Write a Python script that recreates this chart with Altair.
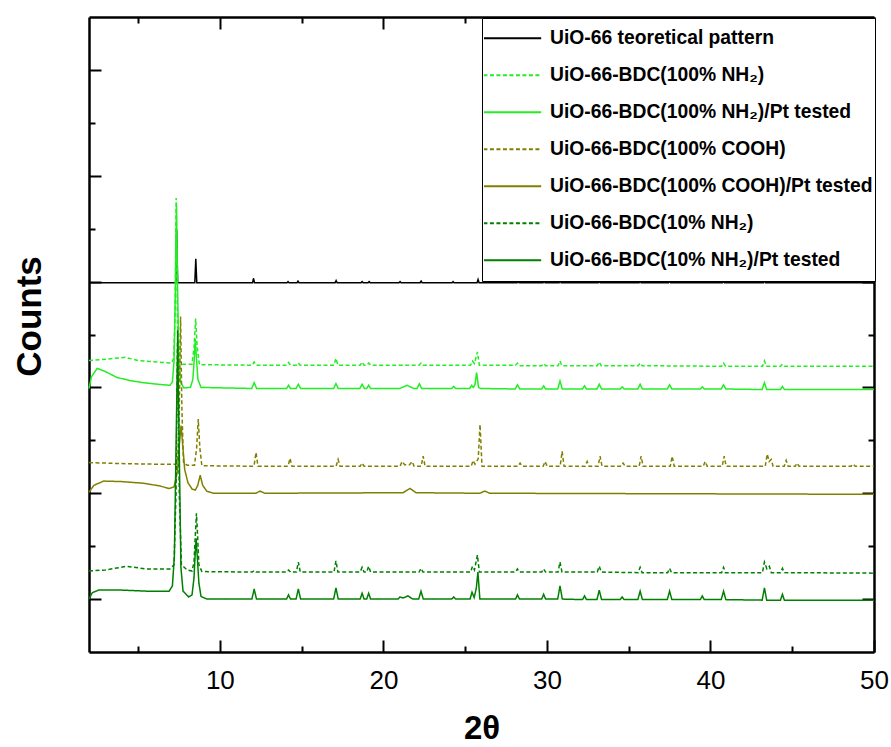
import altair as alt
import pandas as pd

# ---------------- data ----------------
NAMES = [
    "UiO-66 teoretical pattern",
    "UiO-66-BDC(100% NH₂)",
    "UiO-66-BDC(100% NH₂)/Pt tested",
    "UiO-66-BDC(100% COOH)",
    "UiO-66-BDC(100% COOH)/Pt tested",
    "UiO-66-BDC(10% NH₂)",
    "UiO-66-BDC(10% NH₂)/Pt tested",
]
COLORS = ["#000000", "#22EE22", "#22EE22", "#808000", "#808000", "#008000", "#008000"]
DASHES = [[1, 0], [4, 2.5], [1, 0], [4, 2.5], [1, 0], [4, 2.5], [1, 0]]

THEORETICAL = [
    [2.0, 6.98],
    [7.30, 6.98], [7.36, 7.98], [7.42, 6.98],
    [8.47, 6.98], [8.53, 7.43], [8.59, 6.98],
    [12.0, 6.98], [12.06, 7.06], [12.12, 6.98],
    [14.11, 6.98], [14.17, 7.0], [14.23, 6.98],
    [14.72, 6.98], [14.78, 7.01], [14.84, 6.98],
    [17.05, 6.98], [17.11, 7.02], [17.17, 6.98],
    [18.64, 6.98], [18.70, 7.0], [18.76, 6.98],
    [19.07, 6.98], [19.13, 7.0], [19.19, 6.98],
    [20.96, 6.98], [21.02, 7.0], [21.08, 6.98],
    [22.25, 6.98], [22.31, 7.01], [22.37, 6.98],
    [24.2, 6.98], [24.26, 7.0], [24.32, 6.98],
    [25.73, 6.98], [25.79, 7.04], [25.85, 6.98],
    [28.18, 6.98], [28.24, 7.0], [28.3, 6.98],
    [29.77, 6.98], [29.83, 7.0], [29.89, 6.98],
    [30.75, 6.98], [30.81, 7.02], [30.87, 6.98],
    [33.14, 6.98], [33.2, 7.0], [33.26, 6.98],
    [35.64, 6.98], [35.7, 7.0], [35.76, 6.98],
    [37.44, 6.98], [37.5, 7.0], [37.56, 6.98],
    [40.74, 6.98], [40.8, 7.0], [40.86, 6.98],
    [43.24, 6.98], [43.3, 7.02], [43.36, 6.98],
    [50.0, 6.98],
]

NH2_100 = [
    [2.0, 5.51], [3.0, 5.53], [4.2, 5.57], [5.0, 5.51], [6.5, 5.47], [7.05, 5.46],
    [7.18, 5.55], [7.26, 6.3], [7.33, 8.58], [7.41, 6.2], [7.52, 5.5], [7.7, 5.44],
    [8.3, 5.44], [8.42, 5.75], [8.52, 6.30], [8.62, 5.75], [8.75, 5.43],
    [11.98, 5.42], [12.1, 5.48], [12.22, 5.42],
    [14.08, 5.42], [14.2, 5.47], [14.32, 5.42],
    [14.68, 5.42], [14.8, 5.46], [14.92, 5.42],
    [16.98, 5.42], [17.1, 5.55], [17.22, 5.42],
    [18.58, 5.42], [18.7, 5.48], [18.82, 5.42],
    [18.98, 5.42], [19.1, 5.46], [19.22, 5.42],
    [22.18, 5.42], [22.3, 5.46], [22.42, 5.42],
    [25.33, 5.42], [25.45, 5.50], [25.57, 5.45], [25.75, 5.67], [25.87, 5.42],
    [28.08, 5.42], [28.2, 5.46], [28.32, 5.41],
    [29.68, 5.41], [29.8, 5.45], [29.92, 5.41],
    [30.68, 5.41], [30.8, 5.50], [30.92, 5.41],
    [33.08, 5.41], [33.2, 5.48], [33.32, 5.41],
    [35.58, 5.41], [35.7, 5.46], [35.82, 5.41],
    [40.68, 5.40], [40.8, 5.46], [40.92, 5.40],
    [43.18, 5.40], [43.3, 5.50], [43.42, 5.40],
    [44.28, 5.40], [44.4, 5.44], [44.52, 5.40],
    [50.0, 5.40],
]

NH2_100_PT = [
    [2.0, 4.98], [2.15, 5.2], [2.5, 5.36], [3.0, 5.30], [3.7, 5.19], [4.5, 5.13],
    [5.3, 5.09], [6.2, 5.06], [6.95, 5.04],
    [7.1, 5.1], [7.2, 5.5], [7.28, 6.8], [7.35, 8.45], [7.42, 6.8], [7.5, 5.5],
    [7.6, 5.1], [7.8, 4.99],
    [8.2, 5.0], [8.35, 5.15], [8.45, 5.6], [8.5, 5.92], [8.56, 5.6], [8.66, 5.15], [8.85, 5.0],
    [11.95, 4.98], [12.1, 5.09], [12.25, 4.98],
    [14.08, 4.98], [14.2, 5.04], [14.32, 4.98],
    [14.66, 4.98], [14.8, 5.06], [14.94, 4.98],
    [16.96, 4.98], [17.1, 5.07], [17.24, 4.98],
    [18.56, 4.98], [18.7, 5.06], [18.84, 4.98],
    [18.98, 4.98], [19.1, 5.04], [19.22, 4.98],
    [21.0, 4.98], [21.45, 5.04], [21.85, 4.98],
    [22.06, 4.98], [22.2, 5.07], [22.34, 4.98],
    [24.18, 4.98], [24.3, 5.02], [24.42, 4.98],
    [25.28, 4.98], [25.4, 5.04], [25.5, 5.0], [25.6, 5.05], [25.7, 5.28], [25.82, 5.0], [25.95, 4.98],
    [28.06, 4.97], [28.2, 5.05], [28.34, 4.97],
    [29.68, 4.97], [29.8, 5.03], [29.92, 4.97],
    [30.66, 4.97], [30.8, 5.12], [30.94, 4.97],
    [32.18, 4.97], [32.3, 5.03], [32.42, 4.97],
    [33.06, 4.97], [33.2, 5.06], [33.34, 4.97],
    [34.48, 4.97], [34.6, 5.01], [34.72, 4.97],
    [35.56, 4.97], [35.7, 5.06], [35.84, 4.97],
    [37.36, 4.97], [37.5, 5.05], [37.64, 4.97],
    [39.38, 4.97], [39.5, 5.01], [39.62, 4.97],
    [40.66, 4.97], [40.8, 5.05], [40.94, 4.97],
    [43.16, 4.96], [43.3, 5.09], [43.44, 4.96],
    [44.28, 4.96], [44.4, 5.02], [44.52, 4.96],
    [50.0, 4.96],
]

COOH_100 = [
    [2.0, 3.58], [4.0, 3.56], [6.0, 3.55], [7.3, 3.55],
    [7.42, 3.62], [7.52, 4.6], [7.6, 6.34], [7.68, 4.6], [7.78, 3.58], [8.0, 3.53],
    [8.45, 3.53], [8.58, 3.85], [8.68, 4.40], [8.78, 3.85], [8.9, 3.52],
    [12.09, 3.51], [12.21, 3.77], [12.33, 3.51],
    [14.17, 3.51], [14.29, 3.66], [14.41, 3.51],
    [17.11, 3.51], [17.23, 3.64], [17.35, 3.51],
    [18.58, 3.51], [18.7, 3.57], [18.82, 3.51],
    [21.02, 3.51], [21.14, 3.60], [21.3, 3.54], [21.6, 3.54], [21.76, 3.60], [21.88, 3.51],
    [22.31, 3.51], [22.43, 3.70], [22.55, 3.51],
    [25.37, 3.51], [25.49, 3.62], [25.6, 3.55], [25.8, 3.65], [25.91, 4.30], [26.03, 3.51],
    [28.24, 3.51], [28.36, 3.57], [28.48, 3.51],
    [29.77, 3.51], [29.89, 3.60], [30.01, 3.51],
    [30.81, 3.51], [30.93, 3.79], [31.05, 3.51],
    [32.34, 3.51], [32.46, 3.60], [32.58, 3.51],
    [33.13, 3.51], [33.25, 3.70], [33.37, 3.51],
    [34.54, 3.51], [34.66, 3.57], [34.78, 3.51],
    [35.64, 3.51], [35.76, 3.70], [35.88, 3.51],
    [37.54, 3.51], [37.66, 3.70], [37.78, 3.51],
    [39.56, 3.51], [39.68, 3.60], [39.8, 3.51],
    [40.72, 3.51], [40.84, 3.70], [40.96, 3.51],
    [43.35, 3.51], [43.47, 3.74], [43.59, 3.60], [43.71, 3.64], [43.83, 3.51],
    [44.51, 3.51], [44.63, 3.62], [44.75, 3.51],
    [45.18, 3.51], [45.3, 3.57], [45.42, 3.51],
    [48.6, 3.51], [48.73, 3.55], [48.85, 3.51],
    [50.0, 3.51],
]

COOH_100_PT = [
    [2.0, 3.02], [2.3, 3.15], [2.9, 3.23], [4.0, 3.22], [5.3, 3.19], [6.3, 3.14],
    [6.9, 3.09], [7.2, 3.12], [7.4, 3.4], [7.52, 3.9], [7.63, 4.28], [7.72, 3.95],
    [7.85, 3.45], [8.05, 3.2], [8.3, 3.08], [8.5, 3.06], [8.65, 3.15], [8.8, 3.34],
    [8.95, 3.15], [9.2, 3.04], [9.6, 3.0],
    [12.2, 3.0], [12.46, 3.04], [12.75, 3.0],
    [21.2, 3.01], [21.63, 3.09], [22.0, 3.01],
    [25.9, 3.0], [26.2, 3.04], [26.5, 3.0],
    [50.0, 2.98],
]

NH2_10 = [
    [2.0, 1.53], [3.0, 1.55], [4.3, 1.62], [5.5, 1.57], [6.95, 1.57],
    [7.2, 1.65], [7.32, 3.0], [7.42, 6.08], [7.52, 3.0], [7.65, 1.65], [8.0, 1.55], [8.3, 1.53],
    [8.42, 1.7], [8.5, 2.2], [8.57, 2.62], [8.64, 2.2], [8.72, 1.65], [8.9, 1.52],
    [11.98, 1.51], [12.1, 1.54], [12.22, 1.51],
    [14.08, 1.51], [14.2, 1.55], [14.32, 1.51],
    [14.68, 1.51], [14.8, 1.70], [14.92, 1.51],
    [16.98, 1.51], [17.1, 1.72], [17.22, 1.51],
    [18.58, 1.51], [18.7, 1.60], [18.82, 1.51],
    [18.98, 1.51], [19.1, 1.62], [19.22, 1.51],
    [22.18, 1.51], [22.3, 1.58], [22.42, 1.51],
    [25.33, 1.51], [25.45, 1.62], [25.57, 1.55], [25.75, 1.83], [25.87, 1.51],
    [28.08, 1.51], [28.2, 1.57], [28.32, 1.51],
    [29.68, 1.51], [29.8, 1.57], [29.92, 1.51],
    [30.68, 1.51], [30.8, 1.70], [30.92, 1.51],
    [33.08, 1.51], [33.2, 1.62], [33.32, 1.51],
    [35.58, 1.50], [35.7, 1.60], [35.82, 1.50],
    [37.38, 1.50], [37.5, 1.58], [37.62, 1.50],
    [40.68, 1.50], [40.8, 1.60], [40.92, 1.50],
    [43.18, 1.50], [43.3, 1.70], [43.45, 1.57], [43.6, 1.62], [43.72, 1.50],
    [44.28, 1.50], [44.4, 1.58], [44.52, 1.50],
    [50.0, 1.49],
]

NH2_10_PT = [
    [2.0, 1.0], [2.2, 1.12], [2.6, 1.17], [4.0, 1.17], [5.5, 1.15], [6.9, 1.15],
    [7.1, 1.25], [7.22, 1.8], [7.32, 3.8], [7.42, 5.89], [7.52, 3.8], [7.62, 1.6], [7.75, 1.15],
    [8.1, 1.04], [8.3, 1.08], [8.42, 1.4], [8.5, 1.9], [8.55, 2.15], [8.62, 1.8], [8.72, 1.3],
    [8.85, 1.05], [9.2, 1.0],
    [11.96, 1.0], [12.1, 1.19], [12.24, 1.0],
    [14.08, 1.0], [14.2, 1.08], [14.32, 1.0],
    [14.66, 1.0], [14.8, 1.19], [14.94, 1.0],
    [16.96, 1.0], [17.1, 1.21], [17.24, 1.0],
    [18.58, 1.0], [18.7, 1.11], [18.82, 1.0],
    [18.98, 1.0], [19.1, 1.11], [19.22, 1.0],
    [20.9, 1.0], [21.02, 1.04], [21.2, 1.02], [21.5, 1.06], [21.8, 1.0],
    [22.16, 1.0], [22.3, 1.15], [22.44, 1.0],
    [24.18, 1.0], [24.3, 1.04], [24.42, 1.0],
    [25.3, 1.0], [25.42, 1.13], [25.55, 1.03], [25.68, 1.2], [25.78, 1.51], [25.9, 1.0],
    [28.08, 1.0], [28.2, 1.08], [28.32, 1.0],
    [29.68, 1.0], [29.8, 1.09], [29.92, 1.0],
    [30.66, 1.0], [30.8, 1.25], [30.94, 1.0],
    [32.18, 0.99], [32.3, 1.06], [32.42, 0.99],
    [33.06, 0.99], [33.2, 1.17], [33.34, 0.99],
    [34.48, 0.99], [34.6, 1.04], [34.72, 0.99],
    [35.56, 0.99], [35.7, 1.15], [35.84, 0.99],
    [37.36, 0.99], [37.5, 1.15], [37.64, 0.99],
    [39.38, 0.99], [39.5, 1.06], [39.62, 0.99],
    [40.66, 0.99], [40.8, 1.15], [40.94, 0.99],
    [43.16, 0.98], [43.3, 1.21], [43.44, 0.98],
    [44.28, 0.98], [44.4, 1.09], [44.52, 0.98],
    [50.0, 0.98],
]

SERIES = [THEORETICAL, NH2_100, NH2_100_PT, COOH_100, COOH_100_PT, NH2_10, NH2_10_PT]

X_DOMAIN = [2, 50]
Y_DOMAIN = [0, 12]
X_MAJOR = [10, 20, 30, 40, 50]
X_MINOR = [5, 15, 25, 35, 45]
Y_MAJOR = [1, 3, 5, 7, 9, 11]
Y_MINOR = [2, 4, 6, 8, 10]

# ---------------- build table ----------------
rows = []
for name, pts in zip(NAMES, SERIES):
    for i, (xv, yv) in enumerate(pts):
        rows.append({"series": name, "x": xv, "y": yv, "i": i})
df = pd.DataFrame(rows)
frame_df = pd.DataFrame({"x": X_DOMAIN, "y": Y_DOMAIN})

xscale = alt.Scale(domain=X_DOMAIN, nice=False, zero=False)
yscale = alt.Scale(domain=Y_DOMAIN, nice=False, zero=False)


def ax(orient, values, major, **kw):
    # negative tick size (as an expression) turns the ticks inward
    base = dict(orient=orient, values=values, grid=False,
                tickColor="black", tickWidth=2,
                tickSize={"expr": "-12" if major else "-6"},
                domain=major, domainColor="black", domainWidth=2.5)
    if "labels" not in kw:
        base["labels"] = False
    if "title" not in kw:
        base["title"] = None
    base.update(kw)
    return alt.Axis(**base)


bottom_major = ax("bottom", X_MAJOR, True, labels=True,
                  labelFont="Liberation Sans", labelFontSize=26,
                  labelColor="black", labelPadding=27, labelFlush=False, labelOverlap=False,
                  title="2θ", titleFont="Liberation Sans", titleFontSize=33,
                  titleFontWeight="bold", titleColor="black", titleY=76,
                  titleBaseline="middle")
left_major = ax("left", Y_MAJOR, True,
                title="Counts", titleFont="Liberation Sans", titleFontSize=35,
                titleFontWeight="bold", titleColor="black", titleX=-60, titleY=299,
                titleBaseline="middle", titleAngle=-90)

leg = alt.Legend(
    orient="none", legendX=393, legendY=1, direction="vertical", title=None,
    symbolType="M-1.1,0H2.23", symbolSize=1204, symbolStrokeWidth=2,
    labelFont="Liberation Sans", labelFontSize=19.3, labelFontWeight="bold",
    labelColor="black", labelOffset=29, labelLimit=0, rowPadding=0, padding=2,
    clipHeight=36.7, strokeColor="black", fillColor="white")

lines = alt.Chart(df).mark_line(strokeWidth=1.5).encode(
    x=alt.X("x:Q", scale=xscale, axis=bottom_major),
    y=alt.Y("y:Q", scale=yscale, axis=left_major),
    color=alt.Color("series:N", scale=alt.Scale(domain=NAMES, range=COLORS), legend=leg),
    strokeDash=alt.StrokeDash("series:N", scale=alt.Scale(domain=NAMES, range=DASHES), legend=leg),
    order=alt.Order("i:Q"),
)


def dummy(xaxis, yaxis):
    return alt.Chart(frame_df).mark_point(opacity=0).encode(
        x=alt.X("x:Q", scale=xscale, axis=xaxis),
        y=alt.Y("y:Q", scale=yscale, axis=yaxis),
    )


minor_bl = dummy(ax("bottom", X_MINOR, False), ax("left", Y_MINOR, False))
major_tr = dummy(ax("top", X_MAJOR, True), ax("right", Y_MAJOR, True))
minor_tr = dummy(ax("top", X_MINOR, False), ax("right", Y_MINOR, False))

chart = alt.layer(lines, minor_bl, major_tr, minor_tr).resolve_axis(
    x="independent", y="independent"
).properties(
    width=785, height=635,
    padding={"left": 89, "top": 17, "right": 17, "bottom": 95},
    autosize=alt.AutoSizeParams(type="none"),
    background="white",
).configure_view(stroke=None)

chart.save("out.html", embed_options={"renderer": "svg", "actions": False})
